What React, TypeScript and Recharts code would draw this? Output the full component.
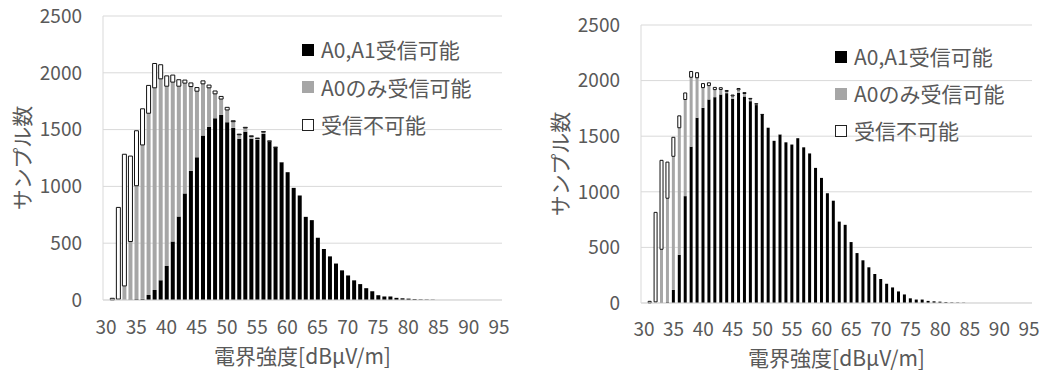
import React from 'react';
import { BarChart, Bar, XAxis, YAxis, CartesianGrid, Legend } from 'recharts';

const bins = [
  30, 31, 32, 33, 34, 35, 36, 37, 38, 39,
  40, 41, 42, 43, 44, 45, 46, 47, 48, 49,
  50, 51, 52, 53, 54, 55, 56, 57, 58, 59,
  60, 61, 62, 63, 64, 65, 66, 67, 68, 69,
  70, 71, 72, 73, 74, 75, 76, 77, 78, 79,
  80, 81, 82, 83, 84, 85, 86, 87, 88, 89,
  90, 91, 92, 93, 94, 95,
];

// Left panel
const leftBoth = [
  0, 0, 3, 3, 5, 8, 10, 44, 88, 174,
  300, 515, 735, 938, 1138, 1256, 1447, 1526, 1600, 1629,
  1565, 1515, 1420, 1480, 1420, 1410, 1462, 1392, 1340, 1213,
  1125, 987, 920, 732, 703, 548, 449, 384, 321, 261,
  216, 173, 140, 104, 77, 42, 31, 31, 19, 15,
  12, 8, 5, 4, 3, 0, 0, 0, 0, 0,
  0, 0, 0, 0, 0, 0,
];
const leftA0Only = [
  0, 0, 5, 121, 510, 998, 1355, 1600, 1780, 1773,
  1582, 1403, 1147, 971, 741, 582, 456, 342, 215, 140,
  108, 55, 35, 35, 20, 12, 17, 6, 4, 2,
  0, 0, 0, 0, 0, 0, 0, 0, 0, 0,
  0, 0, 0, 0, 0, 0, 0, 0, 0, 0,
  0, 0, 0, 0, 0, 0, 0, 0, 0, 0,
  0, 0, 0, 0, 0, 0,
];
const leftNone = [
  0, 15, 807, 1159, 752, 484, 318, 245, 214, 124,
  91, 62, 57, 27, 32, 32, 26, 24, 25, 23,
  23, 8, 5, 5, 5, 3, 3, 2, 1, 0,
  0, 0, 0, 0, 0, 0, 0, 0, 0, 0,
  0, 0, 0, 0, 0, 0, 0, 0, 0, 0,
  0, 0, 0, 0, 0, 0, 0, 0, 0, 0,
  0, 0, 0, 0, 0, 0,
];

// Right panel
const rightBoth = [
  0, 0, 0, 5, 8, 119, 433, 961, 1406, 1666,
  1755, 1830, 1851, 1875, 1887, 1836, 1890, 1857, 1815, 1780,
  1692, 1576, 1458, 1515, 1445, 1425, 1482, 1400, 1345, 1215,
  1125, 987, 920, 732, 703, 548, 449, 384, 321, 261,
  216, 173, 140, 104, 77, 42, 31, 31, 19, 15,
  12, 8, 5, 4, 3, 0, 0, 0, 0, 0,
  0, 0, 0, 0, 0, 0,
];
const rightA0Only = [
  0, 0, 10, 478, 934, 1200, 1143, 869, 624, 360,
  182, 125, 68, 45, 16, 26, 27, 27, 20, 9,
  3, 2, 2, 5, 0, 0, 0, 0, 0, 0,
  0, 0, 0, 0, 0, 0, 0, 0, 0, 0,
  0, 0, 0, 0, 0, 0, 0, 0, 0, 0,
  0, 0, 0, 0, 0, 0, 0, 0, 0, 0,
  0, 0, 0, 0, 0, 0,
];
const rightNone = [
  0, 15, 805, 800, 325, 171, 107, 59, 52, 45,
  36, 25, 20, 16, 8, 8, 12, 8, 5, 3,
  1, 0, 0, 0, 0, 0, 0, 0, 0, 0,
  0, 0, 0, 0, 0, 0, 0, 0, 0, 0,
  0, 0, 0, 0, 0, 0, 0, 0, 0, 0,
  0, 0, 0, 0, 0, 0, 0, 0, 0, 0,
  0, 0, 0, 0, 0, 0,
];

const yTicks = [0, 500, 1000, 1500, 2000, 2500];
const seriesNames = ['A0,A1受信可能', 'A0のみ受信可能', '受信不可能'];
const xTitle = '電界強度[dBμV/m]';
const yTitle = 'サンプル数';

const FILLS = ['#000000', '#a6a6a6', '#ffffff'];
const TEXT = '#595959';
const GRID = '#d9d9d9';
const FONT = "'Noto Sans CJK JP', 'Noto Sans', sans-serif";

function buildRows(both: number[], a0: number[], none: number[]) {
  return bins.map((b, i) => ({ bin: b, both: both[i], a0: a0[i], none: none[i] }));
}

const LegendBox = ({ rowH }: { rowH: number }) => (
  <div style={{ display: 'flex', flexDirection: 'column', fontFamily: FONT }}>
    {seriesNames.map((n, i) => (
      <div key={n} style={{ display: 'flex', alignItems: 'center', height: rowH }}>
        <span
          style={{
            display: 'inline-block',
            width: 12,
            height: 12,
            background: FILLS[i],
            border: i === 2 ? '1.5px solid #222' : 'none',
            boxSizing: 'border-box',
            marginRight: 7,
          }}
        />
        <span style={{ fontSize: 21, color: TEXT, lineHeight: 1, whiteSpace: 'nowrap' }}>{n}</span>
      </div>
    ))}
  </div>
);

type PanelProps = {
  data: any[];
  width: number;
  height: number;
  margin: { top: number; right: number; bottom: number; left: number };
  yAxisWidth: number;
  xTickMargin: number;
  xTitleOffset: number;
  legendLeft: number;
  legendTop: number;
  legendRowH: number;
};

const Panel = (p: PanelProps) => (
  <BarChart width={p.width} height={p.height} data={p.data} margin={p.margin} barCategoryGap="21%">
    <CartesianGrid vertical={false} stroke={GRID} />
    <XAxis
      dataKey="bin"
      interval={4}
      tickLine={false}
      tickSize={0}
      tickMargin={p.xTickMargin}
      height={30}
      axisLine={{ stroke: GRID }}
      tick={{ fill: TEXT, fontSize: 19, fontFamily: FONT }}
      label={{
        content: (lp: any) => {
          const vb = lp.viewBox;
          return (
            <text
              x={vb.x + vb.width / 2}
              y={vb.y + p.xTitleOffset}
              textAnchor="middle"
              dominantBaseline="central"
              fill={TEXT}
              fontSize={21}
              fontFamily={FONT}
            >
              {xTitle}
            </text>
          );
        },
      }}
    />
    <XAxis xAxisId="border" dataKey="bin" orientation="top" height={0} tick={false} tickLine={false} axisLine={{ stroke: GRID }} />
    <YAxis
      width={p.yAxisWidth}
      domain={[0, 2500]}
      ticks={yTicks}
      tickLine={false}
      tickSize={0}
      tickMargin={21}
      axisLine={{ stroke: GRID }}
      tick={{ fill: TEXT, fontSize: 19, fontFamily: FONT }}
      label={{
        content: (lp: any) => {
          const vb = lp.viewBox;
          const cx = vb.x + vb.width - 82;
          const cy = vb.y + vb.height / 2;
          return (
            <text
              x={cx}
              y={cy}
              textAnchor="middle"
              dominantBaseline="central"
              transform={`rotate(-90 ${cx} ${cy})`}
              fill={TEXT}
              fontSize={21}
              fontFamily={FONT}
            >
              {yTitle}
            </text>
          );
        },
      }}
    />
    <YAxis yAxisId="border" orientation="right" width={0} domain={[0, 2500]} tick={false} tickLine={false} axisLine={{ stroke: GRID }} />
    <Legend
      layout="vertical"
      align="center"
      verticalAlign="middle"
      wrapperStyle={{ left: p.legendLeft, top: p.legendTop, width: 'auto', height: 'auto' }}
      content={() => <LegendBox rowH={p.legendRowH} />}
    />
    <Bar dataKey="both" name={seriesNames[0]} stackId="s" fill={FILLS[0]} isAnimationActive={false} />
    <Bar dataKey="a0" name={seriesNames[1]} stackId="s" fill={FILLS[1]} isAnimationActive={false} />
    <Bar dataKey="none" name={seriesNames[2]} stackId="s" fill={FILLS[2]} stroke="#111" strokeWidth={1} isAnimationActive={false} />
  </BarChart>
);

export default function App() {
  const leftData = buildRows(leftBoth, leftA0Only, leftNone);
  const rightData = buildRows(rightBoth, rightA0Only, rightNone);
  return (
    <div style={{ position: 'absolute', left: 0, top: 0, width: 1043, height: 374, background: '#fff', fontFamily: FONT }}>
      <div style={{ position: 'absolute', left: 0, top: 0 }}>
        <Panel
          data={leftData}
          width={520}
          height={374}
          margin={{ top: 16, right: 18, bottom: 44, left: 0 }}
          yAxisWidth={103}
          xTickMargin={21}
          xTitleOffset={55}
          legendLeft={302}
          legendTop={31}
          legendRowH={37.5}
        />
      </div>
      <div style={{ position: 'absolute', left: 520, top: 0 }}>
        <Panel
          data={rightData}
          width={523}
          height={374}
          margin={{ top: 25, right: 11, bottom: 41, left: 0 }}
          yAxisWidth={121}
          xTickMargin={20}
          xTitleOffset={54}
          legendLeft={315}
          legendTop={38}
          legendRowH={37}
        />
      </div>
    </div>
  );
}
